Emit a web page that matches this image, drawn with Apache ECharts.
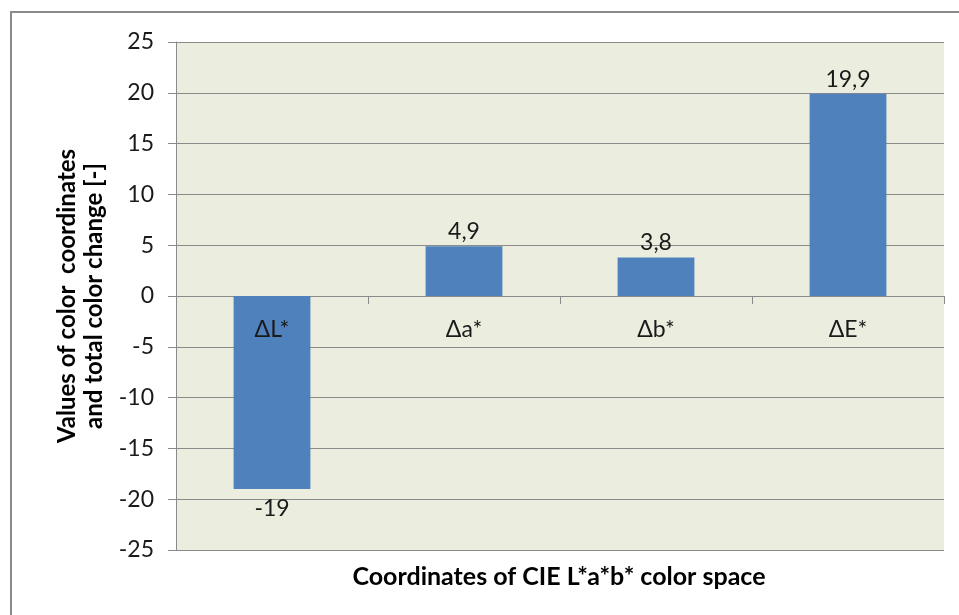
<!DOCTYPE html>
<html><head><meta charset="utf-8">
<script src="https://cdn.jsdelivr.net/npm/echarts@6/dist/echarts.min.js"></script>
<style>html,body{margin:0;padding:0;background:#fff}#c{width:959px;height:615px}</style>
</head><body><div id="c"></div>
<script>
const categories = ['ΔL*', 'Δa*', 'Δb*', 'ΔE*'];
const values = [-19, 4.9, 3.8, 19.9];
const yTicks = { min: -25, max: 25, interval: 5 };
const yTitle = 'Values of color  coordinates\nand total color change [-]';
const xTitle = 'Coordinates of CIE L*a*b* color space';

const FONT = 'Lato';
const GRID = { left: 176, top: 42, width: 768, height: 508 };
// x axis sits on the zero line: distance from grid bottom to value 0
const zeroOffset = -GRID.height * (0 - yTicks.min) / (yTicks.max - yTicks.min);
const chart = echarts.init(document.getElementById('c'), null, { renderer: 'canvas' });
chart.setOption({
  backgroundColor: '#fff',
  animation: false,
  grid: Object.assign({ show: true, backgroundColor: '#EBEEDE', borderWidth: 0 }, GRID),
  graphic: [
    { type: 'rect', shape: { x: 11, y: 12, width: 970, height: 640 }, style: { fill: 'none', stroke: '#8a8a8a', lineWidth: 2 }, silent: true },
    { type: 'text', x: 559, y: 577, style: { text: xTitle, font: 'bold 25px ' + FONT, fill: '#000', textAlign: 'center', textVerticalAlign: 'middle' } }
  ],
  xAxis: {
    type: 'category', data: categories, position: 'bottom', offset: zeroOffset, z: 5,
    axisLine: { show: false, onZero: false, lineStyle: { color: '#8a8a8a', width: 1 } },
    axisTick: { show: true, length: 8, lineStyle: { color: '#8a8a8a' } },
    axisLabel: { margin: 22, fontFamily: FONT, fontSize: 23, color: '#1a1a1a' }
  },
  yAxis: {
    type: 'value', min: yTicks.min, max: yTicks.max, interval: yTicks.interval,
    name: yTitle, nameLocation: 'middle', nameGap: 66,
    nameTextStyle: { fontFamily: FONT, fontSize: 24, fontWeight: 'bold', color: '#000', lineHeight: 27 },
    axisLine: { show: true, lineStyle: { color: '#8a8a8a' } },
    axisTick: { show: true, length: 8, lineStyle: { color: '#8a8a8a' } },
    splitLine: { show: true, lineStyle: { color: '#8a8a8a', width: 1 } },
    axisLabel: { margin: 22, fontFamily: FONT, fontSize: 23, color: '#1a1a1a' }
  },
  series: [{
    type: 'bar', barWidth: '40%',
    itemStyle: { color: '#4F81BD' },
    data: values.map(v => ({ value: v, label: v < 0 ? { position: 'bottom', distance: 8 } : { position: 'top', distance: 3 } })),
    label: { show: true, fontFamily: FONT, fontSize: 23, color: '#1a1a1a',
      formatter: p => String(p.value).replace('.', ',') }
  }]
});
</script></body></html>
